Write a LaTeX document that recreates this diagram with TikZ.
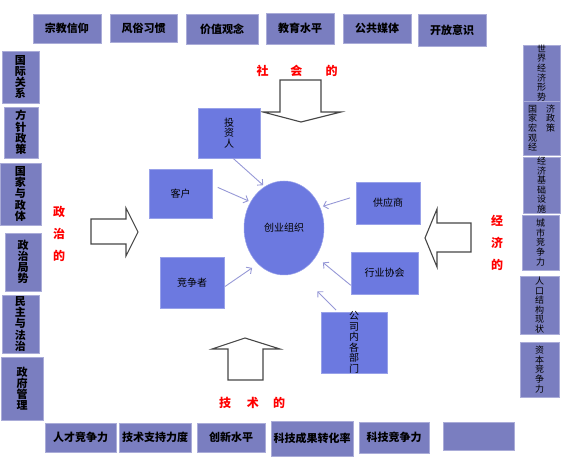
\documentclass[tikz,border=0pt]{standalone}
\usepackage{fontspec}
\setmainfont{Noto Sans CJK SC}
\usetikzlibrary{arrows.meta,shapes.geometric}
\definecolor{outfill}{RGB}{122,126,192}
\definecolor{outline}{RGB}{170,172,216}
\definecolor{infill}{RGB}{108,121,224}
\definecolor{linkcol}{RGB}{150,152,214}
\definecolor{arrowcol}{RGB}{70,70,70}

\begin{document}
\begin{tikzpicture}[x=1pt,y=-1pt,line width=0.5pt,
        outbox/.style={draw=outline,fill=outfill,inner sep=0pt,align=center,
            font=\bfseries\fontsize{11}{11.2}\selectfont},
        sidebox/.style={outbox,font=\fontsize{9}{9.6}\selectfont},
        inbox/.style={draw=infill!70!white,fill=infill,inner sep=0pt,align=center,
            font=\fontsize{10}{10.5}\selectfont},
        redlbl/.style={text=red,align=center,font=\bfseries\fontsize{12}{22}\selectfont},
        link/.style={draw=linkcol,line width=0.9pt,-{Straight Barb[length=4pt,width=8pt]}},
        bigarrow/.style={draw=arrowcol,line width=1.1pt,fill=white}]
            \useasboundingbox (0,0) rectangle (563,457);

            \node[outbox,minimum width=68,minimum height=29] (zj) at(67,28.5) {宗教信仰};
            \node[outbox,minimum width=67,minimum height=28] (fs) at(143.5,28) {风俗习惯};
            \node[outbox,minimum width=72,minimum height=30] (jz) at(222,29) {价值观念};
            \node[outbox,minimum width=68,minimum height=31] (jy) at(300,28.5) {教育水平};
            \node[outbox,minimum width=68,minimum height=29] (gg) at(377,28.5) {公共媒体};
            \node[outbox,minimum width=68,minimum height=32] (kf) at(452,30) {开放意识};

            \node[outbox,minimum width=37,minimum height=52] (gj) at(20.5,77) {国\\际\\关\\系};
            \node[outbox,minimum width=34,minimum height=51] (fz) at(21,132.5) {方\\针\\政\\策};
            \node[outbox,minimum width=41,minimum height=62] (gt) at(20.5,194) {国\\家\\与\\政\\体};
            \node[outbox,minimum width=36,minimum height=58] (zs) at(23,262) {政\\治\\局\\势};
            \node[outbox,minimum width=37,minimum height=58] (mz) at(20.5,324) {民\\主\\与\\法\\治};
            \node[outbox,minimum width=42,minimum height=63] (zf) at(22,388.5) {政\\府\\管\\理};

            \node[sidebox,minimum width=37,minimum height=50] (sj) at(541.5,73) {世\\界\\经\\济\\形\\势};
            \node[sidebox,minimum width=37,minimum height=54,align=left] (hg) at(541.5,128)
                {国\hspace{9pt}济\\家\hspace{9pt}政\\宏\hspace{9pt}策\\观\\经};
            \node[sidebox,minimum width=37,minimum height=56] (jc) at(541.5,185) {经\\济\\基\\础\\设\\施};
            \node[sidebox,minimum width=37,minimum height=55] (cs) at(540.5,242.5) {城\\市\\竞\\争\\力};
            \node[sidebox,minimum width=39,minimum height=58] (rk) at(539.5,305) {人\\口\\结\\构\\现\\状};
            \node[sidebox,minimum width=39,minimum height=55] (zb) at(539.5,369.5) {资\\本\\竞\\争\\力};

            \node[outbox,minimum width=71,minimum height=29] (rc) at(80.5,437.5) {人才竞争力};
            \node[outbox,minimum width=72,minimum height=29] (js) at(155,437.5) {技术支持力度};
            \node[outbox,minimum width=68,minimum height=29] (cx) at(231,437.5) {创新水平};
            \node[outbox,minimum width=82,minimum height=35] (kc) at(312,438.5) {科技成果转化率};
            \node[outbox,minimum width=70,minimum height=31] (kj) at(394,437.5) {科技竞争力};
            \node[outbox,minimum width=71,minimum height=28] (em) at(478.5,436) {};

            \node[redlbl] (soc) at(297,71) {社\hspace{22pt}会\hspace{23pt}的};
            \node[redlbl] (tec) at(252,403) {技\hspace{16pt}术\hspace{14pt}的};
            \node[redlbl] (pol) at(59,234) {政\\治\\的};
            \node[redlbl] (eco) at(497,243) {经\\济\\的};

            \draw[bigarrow] (280,80) -- (321,80) -- (321,112) -- (341,112) -- (301,122)
                -- (263,112) -- (280,112) -- cycle;
            \draw[bigarrow] (228,380) -- (228,349) -- (212,349) -- (245,338) -- (280,349)
                -- (263,349) -- (263,380) -- cycle;
            \draw[bigarrow] (91,219) -- (126,219) -- (126,208) -- (138,232) -- (126,256)
                -- (126,244) -- (91,244) -- cycle;
            \draw[bigarrow] (471,223) -- (437,223) -- (437,209) -- (425,238) -- (437,267)
                -- (437,252) -- (471,252) -- cycle;

            \node[inbox,ellipse,minimum width=80,minimum height=94] (org) at(284,228) {创业组织};
            \node[inbox,minimum width=62,minimum height=50] (tz) at(229,133) {投\\资\\人};
            \node[inbox,minimum width=63,minimum height=49] (kh) at(180.5,193.5) {客户};
            \node[inbox,minimum width=64,minimum height=42] (gy) at(388,203) {供应商};
            \node[inbox,minimum width=64,minimum height=51] (jzz) at(192,282.5) {竞争者};
            \node[inbox,minimum width=67,minimum height=42] (hy) at(384.5,273) {行业协会};
            \node[inbox,minimum width=66,minimum height=49] (bm) at(354,342.5) {公\\司\\内\\各\\部\\门};

            \draw[link,shorten >=2pt] (tz.-81) -- (org.115);
            \draw[link,shorten <=6pt,shorten >=2pt] (kh.15) -- (org.142);
            \draw[link,shorten <=6pt,shorten >=3pt] (gy.168) -- (org.30);
            \draw[link,shorten <=1pt,shorten >=7pt] (jzz.-8) -- (org.-126);
            \draw[link,shorten >=9pt] (hy.-160) -- (org.-42);
            \draw[link,shorten <=2pt,shorten >=27pt] (bm.118) -- (org.-72);
        \end{tikzpicture}
\end{document}
